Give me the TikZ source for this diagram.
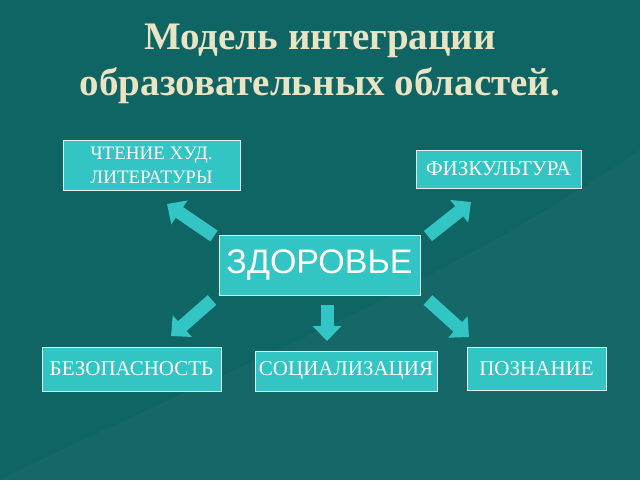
\documentclass[tikz,border=0pt]{standalone}
\usepackage{fontspec}
\setmainfont{Liberation Serif}
\newfontfamily\sansf{Liberation Sans}
\usetikzlibrary{arrows.meta}
\definecolor{bg}{HTML}{0F6464}
\definecolor{boxc}{HTML}{33C4C4}
\definecolor{titlec}{HTML}{E8E4C4}
\tikzset{
  box/.style={draw=white!85!boxc, line width=0.8pt, fill=boxc, text=white, inner sep=0pt, align=center, font=\fontsize{21}{23}\selectfont},
  blockarrow/.style={draw=boxc, line width=13pt, -{Triangle[width=28pt,length=15pt]}, fill=boxc},
}
\begin{document}
\begin{tikzpicture}[x=1pt,y=-1pt]
\useasboundingbox (0,0) rectangle (640,480);
\fill[bg] (0,0) rectangle (640,480);
\fill[white,opacity=0.03] (0,480) .. controls (200,380) and (420,300) .. (640,150) -- (640,480) -- cycle;
\node[text=titlec, font=\bfseries\fontsize{39}{46}\selectfont, align=center] (title) at (320,64) {Модель интеграции\\образовательных областей.};
\node[box, minimum width=177pt, minimum height=50pt, font=\fontsize{19}{24}\selectfont] (lit) at (151.5,165) {ЧТЕНИЕ ХУД.\\ЛИТЕРАТУРЫ};
\node[box, minimum width=165pt, minimum height=38pt] (fiz) at (498.5,169) {ФИЗКУЛЬТУРА};
\node[box, minimum width=201pt, minimum height=60pt, font=\sansf\fontsize{34}{38}\selectfont] (zd) at (319.5,265) {ЗДОРОВЬЕ};
\node[box, minimum width=179pt, minimum height=44pt] (bez) at (131.5,369) {БЕЗОПАСНОСТЬ};
\node[box, minimum width=182pt, minimum height=40pt] (soc) at (346,371) {СОЦИАЛИЗАЦИЯ};
\node[box, minimum width=139pt, minimum height=43pt] (poz) at (536.5,368.5) {ПОЗНАНИЕ};
\coordinate (a1s) at (214,236); \coordinate (a1e) at (167,204);
\coordinate (a2s) at (428,236); \coordinate (a2e) at (471,202);
\coordinate (a3s) at (212,300); \coordinate (a3e) at (171,336);
\coordinate (a4s) at (428,300); \coordinate (a4e) at (469,337);
\coordinate (a5s) at (327,305); \coordinate (a5e) at (327,341);
\draw[blockarrow] (a1s) -- (a1e);
\draw[blockarrow] (a2s) -- (a2e);
\draw[blockarrow] (a3s) -- (a3e);
\draw[blockarrow] (a4s) -- (a4e);
\draw[blockarrow] (a5s) -- (a5e);
\end{tikzpicture}
\end{document}
